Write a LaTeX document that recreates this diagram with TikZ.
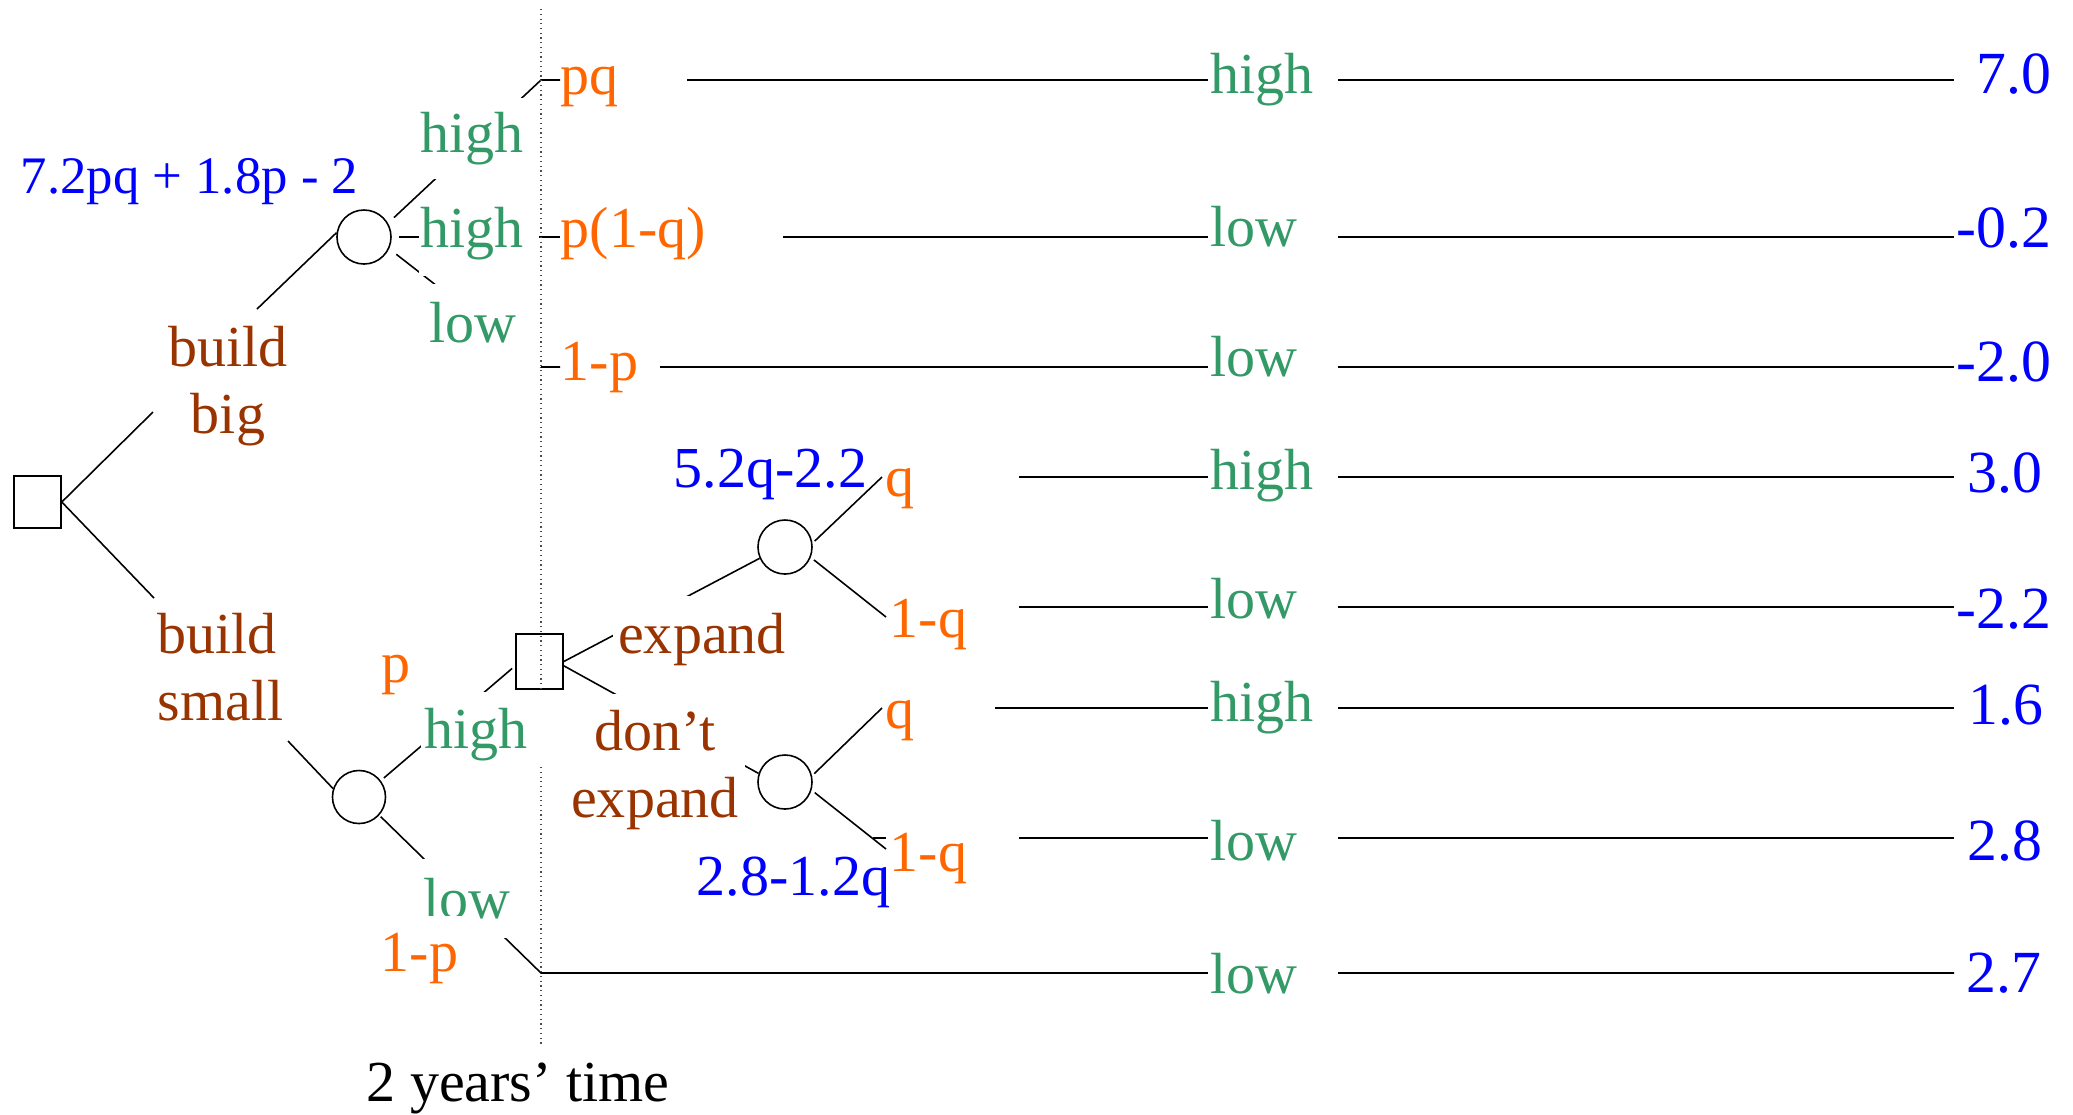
\documentclass[tikz,border=0pt]{standalone}
\usepackage{fontspec}
\setmainfont{Liberation Serif}
\usetikzlibrary{calc}
\definecolor{brn}{HTML}{993300}
\definecolor{org}{HTML}{FF6600}
\definecolor{grn}{HTML}{339966}
\definecolor{blu}{HTML}{0000FF}
\newcommand\fsA{\fontsize{16.5}{19.07}\selectfont}
\newcommand\fsV{\fontsize{17}{20}\selectfont}
\newcommand\fsE{\fontsize{15}{18}\selectfont}
\newcommand\twoc[2]{\begin{tabular}[t]{@{}c@{}}#1\\#2\end{tabular}}
\newcommand\twol[2]{\begin{tabular}[t]{@{}l@{}}#1\\#2\end{tabular}}
\begin{document}
\begin{tikzpicture}[x=0.01cm,y=-0.01cm,
  lbl/.style={inner sep=0pt, font=\fsA},
  cover/.style={fill=white},
  brnl/.style={lbl, text=brn},
  orgl/.style={lbl, text=org},
  grnl/.style={lbl, text=grn},
  blul/.style={lbl, text=blu},
  valn/.style={lbl, text=blu, font=\fsV, anchor=base},
  outc/.style={grnl, cover, anchor=base west, inner xsep=0.03cm, inner ysep=0.02cm},
  ln/.style={line width=0.45pt, black},
  dec/.style={draw, line width=0.45pt, inner sep=0pt, minimum width=0.47cm},
  chance/.style={draw, circle, line width=0.45pt, minimum size=0.54cm, inner sep=0pt}]
\useasboundingbox (0,0) rectangle (2073,1114);

% decision and chance nodes
\node[dec, minimum height=0.52cm] (root) at (37.5,502) {};
\node[dec, minimum height=0.55cm] (sq2) at (539.5,661.5) {};
\node[chance] (c1) at (364,237) {};
\node[chance, minimum size=0.53cm] (c2) at (359,797) {};
\node[chance] (c3) at (785,547) {};
\node[chance] (c4) at (785,782) {};

% probability labels
\node[orgl, anchor=base west] (pq) at (560,94) {pq};
\node[orgl, anchor=base west] (p1q) at (560,247) {p(1-q)};
\node[orgl, anchor=base west] (p1p) at (560,380) {1-p};
\node[orgl, anchor=base west] (q4) at (885,496) {q};
\node[orgl, anchor=base west] (q5) at (889,637) {1-q};
\node[orgl, anchor=base west] (q6) at (885,728) {q};
\node[orgl, anchor=base west] (q7) at (889,871) {1-q};
\node[orgl, anchor=base west] (pp) at (381,682) {p};

% coordinates
\coordinate (k1) at (541,80);
\coordinate (k3) at (541,367);
\coordinate (k8) at (541,973);
\coordinate (bb1) at (153,412);
\coordinate (bb2) at (257,309);
\coordinate (bs1) at (154,598);
\coordinate (bs2) at (288,741);
\coordinate (e4) at (882,477);
\coordinate (e5) at (886,617);
\coordinate (e6) at (882,708);
\coordinate (e7) at (886,849);
\coordinate (r1s) at (687,80);   \coordinate (r1e) at (1954,80);
\coordinate (r2s) at (783,237);  \coordinate (r2e) at (1954,237);
\coordinate (r3s) at (660,367);  \coordinate (r3e) at (1954,367);
\coordinate (r4s) at (1019,477); \coordinate (r4e) at (1954,477);
\coordinate (r5s) at (1019,607); \coordinate (r5e) at (1954,607);
\coordinate (r6s) at (995,708);  \coordinate (r6e) at (1954,708);
\coordinate (r7d) at (873,838);  \coordinate (r7t) at (886,838);
\coordinate (r7s) at (1019,838); \coordinate (r7e) at (1954,838);
\coordinate (r8e) at (1954,973);

% connectors
\draw[ln] (root.east) -- (bb1);
\draw[ln] (bb2) -- (c1.171);
\draw[ln] (root.east) -- (bs1);
\draw[ln] (bs2) -- (c2.162);
\draw[ln, shorten <=0.08cm] (c1.30) -- (k1) -- (pq.west |- k1);
\draw[ln, shorten <=0.07cm] (c1.east) -- (p1q.west |- c1.east);
\draw[ln, shorten <=0.09cm] (c1.-25) -- (k3) -- (p1p.west |- k3);
\draw[ln, shorten <=0.04cm, shorten >=0.04cm] (c2.37) -- (sq2.190);
\draw[ln, shorten <=0.02cm] (c2.-42) -- (k8) -- (r8e);
\draw[ln] (sq2.east) -- (c3.204);
\draw[ln] (sq2.-10) -- (c4.162);
\draw[ln, shorten <=0.03cm] (c3.8) -- (e4);
\draw[ln, shorten <=0.04cm] (c3.-22) -- (e5);
\draw[ln, shorten <=0.03cm] (c4.13) -- (e6);
\draw[ln, shorten <=0.04cm] (c4.-17) -- (e7);
\draw[ln] (r1s) -- (r1e);
\draw[ln] (r2s) -- (r2e);
\draw[ln] (r3s) -- (r3e);
\draw[ln] (r4s) -- (r4e);
\draw[ln] (r5s) -- (r5e);
\draw[ln] (r6s) -- (r6e);
\draw[ln] (r7d) -- (r7t) (r7s) -- (r7e);

% decision labels
\node[brnl, anchor=base] (bbig) at (228,366) {\twoc{build}{big}};
\node[brnl, anchor=base west] (bsmall) at (157,653) {\twol{build}{small}};
\node[brnl, cover, anchor=base, inner xsep=0.05cm, inner ysep=0.17cm] (exp) at (702,653) {expand};
\node[brnl, cover, anchor=base, inner xsep=0.06cm, inner ysep=0.09cm] (dexp) at (655,750) {\twoc{don’t}{expand}};

% outcome labels on branches
\node[grnl, cover, anchor=base west, inner xsep=0.03cm, inner ysep=0.14cm] (gh1) at (417,152) {high};
\node[grnl, cover, anchor=base west, inner xsep=0.02cm, inner ysep=0.02cm] (gh2) at (418,247) {high\kern0.13cm\rule[-0.27cm]{0pt}{0.27cm}};
\node[grnl, cover, anchor=base west, inner xsep=0.03cm, inner ysep=0.03cm] (gl1) at (426,342) {low\kern0.21cm\rule[-0.22cm]{0pt}{0.77cm}};
\node[grnl, cover, anchor=base west, inner xsep=0.04cm, inner ysep=0.16cm] (gh3) at (420,748) {high};
\node[grnl, cover, anchor=base west, inner xsep=0.03cm, inner ysep=0.19cm] (gl2) at (420,918) {low};
\node[orgl, cover, anchor=base west, inner xsep=0.03cm, inner ysep=0.17cm] (p1p2) at (377,971) {1-p};

% outcome labels in the right column
\node[outc] (g1) at (1207,93) {\makebox[1.24cm][l]{high}};
\node[outc] (g2) at (1207,246) {\makebox[1.24cm][l]{low}};
\node[outc] (g3) at (1207,376) {\makebox[1.24cm][l]{low}};
\node[outc] (g4) at (1207,489) {\makebox[1.24cm][l]{high}};
\node[outc] (g5) at (1207,618) {\makebox[1.24cm][l]{low}};
\node[outc] (g6) at (1207,721) {\makebox[1.24cm][l]{high}};
\node[outc] (g7) at (1207,860) {\makebox[1.24cm][l]{low}};
\node[outc] (g8) at (1207,993) {\makebox[1.24cm][l]{low}};

% payoffs
\node[valn] (v1) at (2014,93) {7.0};
\node[valn] (v2) at (2004,247) {-0.2};
\node[valn] (v3) at (2004,381) {-2.0};
\node[valn] (v4) at (2005,492) {3.0};
\node[valn] (v5) at (2004,628) {-2.2};
\node[valn] (v6) at (2006,724) {1.6};
\node[valn] (v7) at (2005,860) {2.8};
\node[valn] (v8) at (2004,992) {2.7};

% expected values
\node[blul, font=\fsE, anchor=base west] (ev1) at (20,193) {7.2pq + 1.8p - 2};
\node[blul, anchor=base west] (ev2) at (673,487) {5.2q-2.2};
\node[blul, anchor=base west] (ev3) at (696,895) {2.8-1.2q};

\node[lbl, anchor=base] (yrs) at (518,1101) {2 years’ time};

% time line
\coordinate (d1) at (541,9);
\coordinate (d2) at (541,692);
\coordinate (d3) at (541,767);
\coordinate (d4) at (541,1044);
\draw[densely dotted, line width=0.35pt, black!70] (d1) -- (d2) (d3) -- (d4);
\end{tikzpicture}
\end{document}
